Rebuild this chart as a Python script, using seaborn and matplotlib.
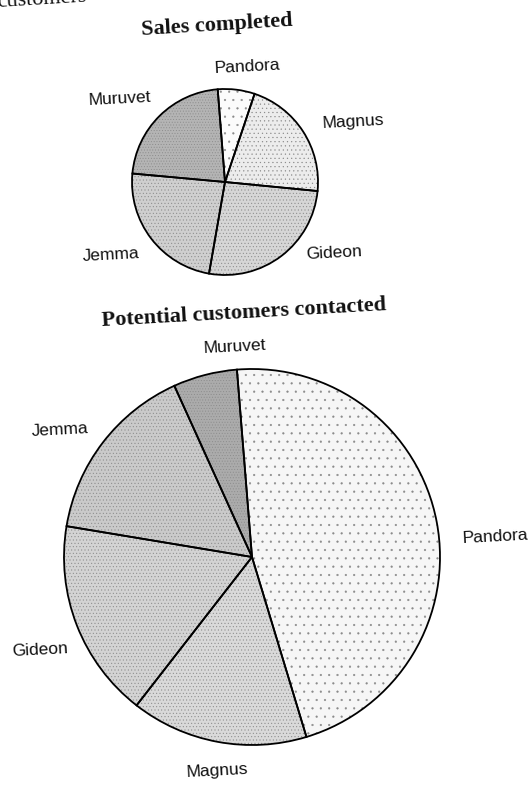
import matplotlib
matplotlib.use('Agg')
import matplotlib.pyplot as plt
import seaborn as sns

sns.set_theme(style='white')
plt.rcParams['font.family'] = ['Liberation Sans', 'DejaVu Sans']
plt.rcParams['hatch.linewidth'] = 0.35

# Dati (percentuali, in senso orario da Pandora)
names = ['Pandora', 'Magnus', 'Gideon', 'Jemma', 'Muruvet']
sales = [6.4, 21.4, 26.2, 23.7, 22.3]
contacted = [46.6, 15.2, 17.1, 15.6, 5.5]

title_top = 'Sales completed'
title_bottom = 'Potential customers contacted'

# Toni di grigio "retinati" come nella stampa
shades_top = ['#fbfbfb', '#ececec', '#d6d6d6', '#cfcfcf', '#b4b4b4']
shades_bottom = ['#f6f6f6', '#d9d9d9', '#d3d3d3', '#cacaca', '#ababab']
dots_top = ['..', '....', '.....', '.....', '......']
dots_bottom = ['..', '.....', '.....', '.....', '......']

W, H = 529, 785
fig = plt.figure(figsize=(W / 100, H / 100), dpi=100)
ax = fig.add_axes([0, 0, 1, 1])


def py(y):
    # da coordinate immagine (y verso il basso) a coordinate dati
    return H - y


def draw_pie(values, center, radius, start, shades, dots, label_pos):
    wedges, _ = ax.pie(values, colors=shades, startangle=start,
                       counterclock=False, center=(center[0], py(center[1])),
                       radius=radius, wedgeprops=dict(linewidth=0))
    for w, h in zip(wedges, dots):
        w.set_hatch(h)
        w.set_edgecolor('#8a8a8a')
        w.set_linewidth(0)
    ax.pie(values, startangle=start, counterclock=False,
           center=(center[0], py(center[1])), radius=radius,
           wedgeprops=dict(fill=False, edgecolor='black', linewidth=1.3))
    for name, (x, y) in zip(names, label_pos):
        ax.text(x, py(y), name, ha='center', va='center', fontsize=12.5,
                rotation=3, color='#111111')


draw_pie(sales, (225, 182), 93, 94.5, shades_top, dots_top,
         [(247, 67), (353, 122), (334, 253), (111, 255), (120, 99)])
draw_pie(contacted, (252, 557), 188, 94.6, shades_bottom, dots_bottom,
         [(495, 537), (217, 771), (40, 650), (60, 430), (235, 347)])

serif = ['Liberation Serif', 'DejaVu Serif']
ax.text(217, py(25), title_top, ha='center', va='center', fontsize=16,
        fontweight='bold', family=serif, rotation=3.5, color='#111111')
ax.text(244, py(313), title_bottom, ha='center', va='center', fontsize=16,
        fontweight='bold', family=serif, rotation=3.2, color='#111111')
# frammento di testo della pagina tagliato in alto a sinistra
ax.text(-4, py(7), 'customers', ha='left', va='baseline', fontsize=16,
        family=serif, rotation=3.5, color='#111111')

ax.set_xlim(0, W)
ax.set_ylim(0, H)
ax.set_aspect('equal')
ax.axis('off')

plt.savefig('out.png', dpi=100, facecolor='white')
